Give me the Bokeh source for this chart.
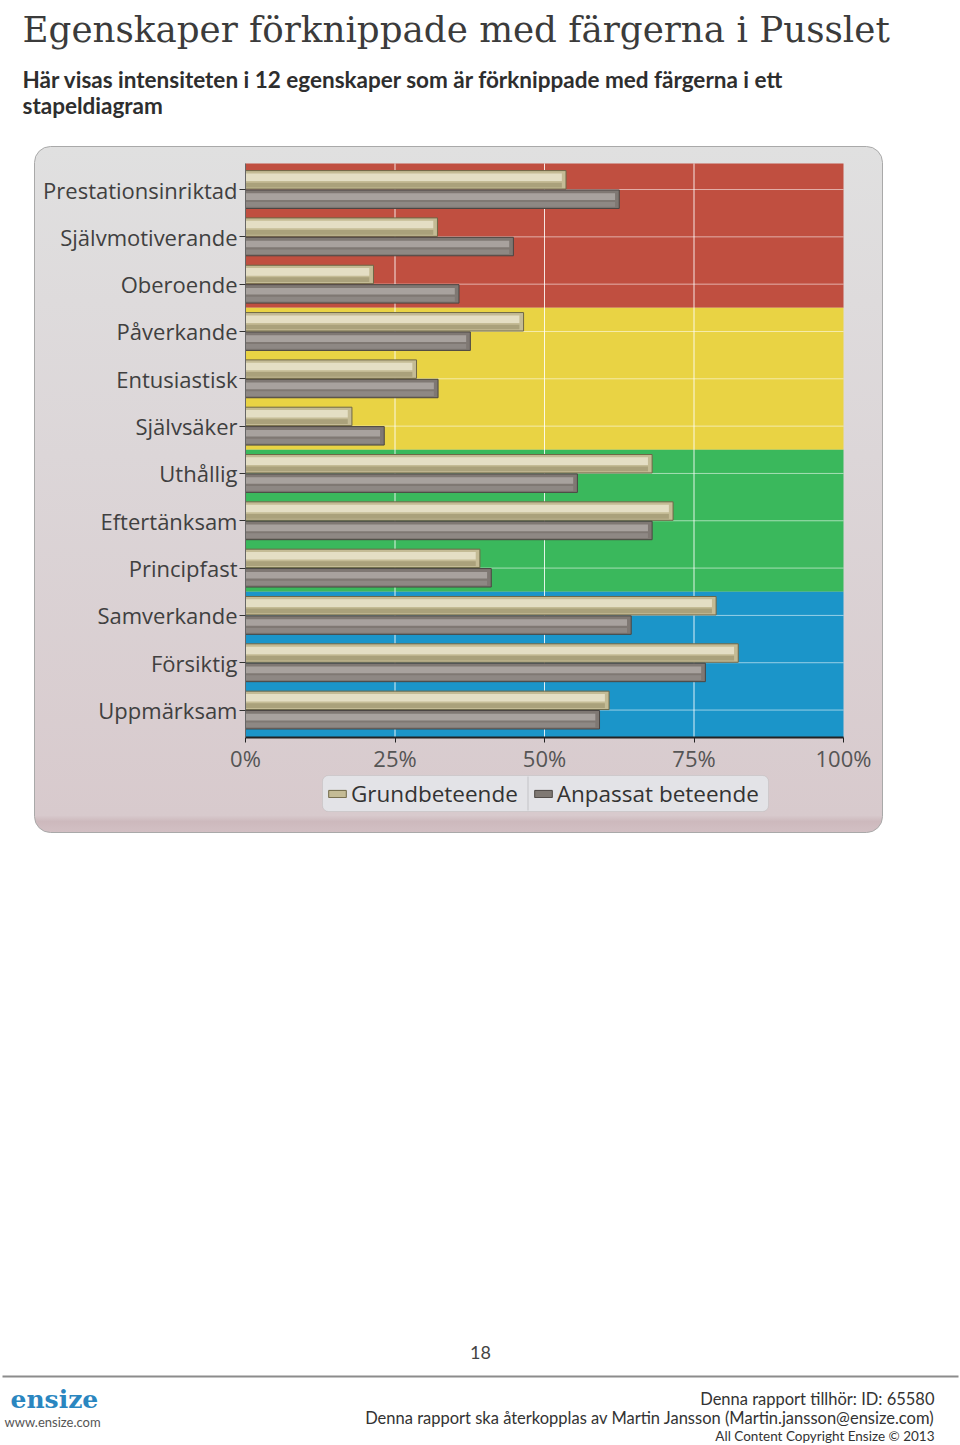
import urllib.parse
from bokeh.plotting import figure
from bokeh.models import Range1d, FixedTicker, BoxAnnotation, Label, Legend, LegendItem, ColumnDataSource
from bokeh.embed import file_html
from bokeh.resources import INLINE

# ---------------- data ----------------
categories = ["Prestationsinriktad", "Självmotiverande", "Oberoende", "Påverkande",
              "Entusiastisk", "Självsäker", "Uthållig", "Eftertänksam",
              "Principfast", "Samverkande", "Försiktig", "Uppmärksam"]
grund = [53.6, 32.1, 21.4, 46.5, 28.6, 17.8, 68.0, 71.5, 39.2, 78.7, 82.4, 60.8]
anpassat = [62.5, 44.8, 35.7, 37.6, 32.2, 23.2, 55.5, 68.0, 41.1, 64.5, 76.9, 59.2]
series_names = ["Grundbeteende", "Anpassat beteende"]
x_ticks = [0, 25, 50, 75, 100]
x_tick_labels = ["0%", "25%", "50%", "75%", "100%"]
group_sizes = [3, 3, 3, 3]          # red, yellow, green, blue colour groups
group_colors = ["#C04F40", "#E9D344", "#3AB85C", "#1B95C9"]

title_text = "Egenskaper förknippade med färgerna i Pusslet"
subtitle_lines = ["Här visas intensiteten i 12 egenskaper som är förknippade med färgerna i ett",
                  "stapeldiagram"]
page_number = "18"
logo_text = "ensize"
logo_url = "www.ensize.com"
footer_right = ["Denna rapport tillhör: ID: 65580",
                "Denna rapport ska återkopplas av Martin Jansson (Martin.jansson@ensize.com)",
                "All Content Copyright Ensize © 2013"]

# ---------------- page geometry (pixels) ----------------
W, H = 960, 1445
PL, PR, PT, PB = 245, 843, 163, 737       # plot area on the page
Y_TOP, Y_BOT = -0.55, 11.58               # category range shown in the plot area
X_MIN, X_MAX = 0, 100
kx = (PR - PL) / (X_MAX - X_MIN)
ky = (PB - PT) / (Y_BOT - Y_TOP)
x_range = Range1d(X_MIN - PL / kx, X_MAX + (W - PR) / kx)
y_range = Range1d(Y_BOT + (H - PB) / ky, Y_TOP - PT / ky)

# rounded gradient panel behind the chart (CSS background)
panel_svg = ('<svg xmlns="http://www.w3.org/2000/svg" width="849" height="687">'
             '<defs><linearGradient id="g" x1="0" y1="0" x2="0" y2="1">'
             '<stop offset="0" stop-color="#e0e0e0"/><stop offset="0.45" stop-color="#dcd6d8"/>'
             '<stop offset="0.975" stop-color="#d8cacd"/><stop offset="0.984" stop-color="#cdb9bd"/>'
             '<stop offset="1" stop-color="#d3c0c4"/></linearGradient></defs>'
             '<rect x="0.5" y="0.5" width="848" height="686" rx="16" ry="16" fill="url(#g)" '
             'stroke="#a9a9a9" stroke-width="1"/></svg>')
panel_uri = "data:image/svg+xml," + urllib.parse.quote(panel_svg)

p = figure(width=W, height=H, x_range=x_range, y_range=y_range,
           output_backend="svg", toolbar_location=None, min_border=0,
           background_fill_color=None, border_fill_color=None, outline_line_color=None)
p.styles = {"background": f'url("{panel_uri}") 34px 146px / 849px 687px no-repeat, #ffffff'}
p.grid.visible = False

# ---- coloured bands ----
band_top, band_bot, start = [], [], 0
for gi, size in enumerate(group_sizes):
    band_top.append(Y_TOP if gi == 0 else start - 0.5)
    band_bot.append(Y_BOT if gi == len(group_sizes) - 1 else start + size - 0.5)
    start += size
p.quad(left=X_MIN, right=X_MAX, top=band_top, bottom=band_bot, fill_color=group_colors,
       line_color=None, level="image")

# ---- grid lines (limited to the plot area) ----
idx = list(range(len(categories)))
p.segment(x0=x_ticks[1:-1], x1=x_ticks[1:-1], y0=Y_TOP, y1=Y_BOT,
          line_color="white", line_alpha=0.85, line_width=1, level="underlay")
p.segment(x0=X_MIN, x1=X_MAX, y0=idx, y1=idx,
          line_color="white", line_alpha=0.55, line_width=1, level="underlay")

# ---- bars ----
off, h = 0.205, 0.39
src = ColumnDataSource(dict(
    y_g=[i - off for i in idx], y_a=[i + off for i in idx],
    y_gh=[i - off - 0.055 for i in idx], y_ah=[i + off - 0.055 for i in idx],
    y_gs=[i - off + 0.11 for i in idx], y_as=[i + off + 0.11 for i in idx],
    g=grund, a=anpassat,
    gh=[v - 0.7 for v in grund], ah=[v - 0.7 for v in anpassat]))

g_base = p.hbar(y="y_g", right="g", left=0, height=h, source=src,
                fill_color="#c4bb95", line_color="#6f6746", line_width=1)
p.hbar(y="y_gs", right="gh", left=0, height=0.1, source=src, fill_color="#aaa17b", line_color=None)
p.hbar(y="y_gh", right="gh", left=0, height=0.16, source=src, fill_color="#e4dec4", line_color=None)

a_base = p.hbar(y="y_a", right="a", left=0, height=h, source=src,
                fill_color="#7f7873", line_color="#4a4542", line_width=1)
p.hbar(y="y_as", right="ah", left=0, height=0.1, source=src, fill_color="#8e8884", line_color=None)
p.hbar(y="y_ah", right="ah", left=0, height=0.14, source=src, fill_color="#a8a29e", line_color=None)

# ---- axes (drawn at the plot-area edges) ----
xa = p.xaxis[0]
xa.fixed_location = Y_BOT
xa.bounds = (X_MIN, X_MAX)
xa.ticker = FixedTicker(ticks=x_ticks)
xa.major_label_overrides = {t: l for t, l in zip(x_ticks, x_tick_labels)}
xa.axis_line_color = "#222222"
xa.axis_line_width = 2
xa.major_tick_line_color = "#222222"
xa.major_tick_out = 5
xa.major_tick_in = 0
xa.minor_tick_line_color = None
xa.major_label_text_font = "Open Sans"
xa.major_label_text_font_size = "22px"
xa.major_label_text_color = "#555555"
xa.major_label_standoff = 0

ya = p.yaxis[0]
ya.fixed_location = X_MIN
ya.bounds = (Y_TOP, Y_BOT)
ya.ticker = FixedTicker(ticks=idx)
ya.major_label_overrides = {i: c for i, c in zip(idx, categories)}
ya.axis_line_color = "#666666"
ya.major_tick_line_color = "#333333"
ya.major_tick_out = 6
ya.major_tick_in = 0
ya.minor_tick_line_color = None
ya.major_label_text_font = "Open Sans"
ya.major_label_text_font_size = "22px"
ya.major_label_text_color = "#404040"
ya.major_label_standoff = 2


def box(l, r, t, b, color, level="annotation", line=None, radius=0):
    p.add_layout(BoxAnnotation(left=l, right=r, top=H - t, bottom=H - b,
                               left_units="screen", right_units="screen",
                               top_units="screen", bottom_units="screen",
                               fill_color=color, fill_alpha=1, line_color=line, line_width=1,
                               border_radius=radius, level=level))


# ---- legend (box drawn separately) ----
box(322, 768, 775, 811, "#e3e3e7", level="guide", line="#a8a8a8", radius=6)
box(527, 528, 776, 810, "#c4c4c8", level="overlay")
legend = Legend(items=[LegendItem(label=series_names[0], renderers=[g_base]),
                       LegendItem(label=series_names[1], renderers=[a_base])],
                location=(326, H - 809), orientation="horizontal",
                background_fill_alpha=0, border_line_color=None,
                label_text_font="Open Sans", label_text_font_size="22.5px", label_text_color="#333333",
                glyph_width=22, glyph_height=9, padding=5, spacing=14, label_standoff=3, margin=0)
p.add_layout(legend)


# ---- page texts ----
def add_label(text, px, py, size, color="#333333", font="Lato", style="normal",
              align="left", baseline="middle"):
    p.add_layout(Label(x=px, y=H - py, x_units="screen", y_units="screen", text=text,
                       text_font=font, text_font_size=size, text_color=color,
                       text_font_style=style, text_align=align, text_baseline=baseline))


add_label(title_text, 22, 29, "35.7px", color="#3b3b3b", font="DejaVu Serif", baseline="alphabetic")
add_label(subtitle_lines[0], 22, 79, "22.5px", color="#2e2e2e", style="bold", baseline="alphabetic")
add_label(subtitle_lines[1], 22, 105, "22.5px", color="#2e2e2e", style="bold", baseline="alphabetic")
add_label(page_number, 480, 1352, "18px", color="#444444", align="center")
box(2, 958, 1375, 1377, "#8c8c8c")
add_label(logo_text, 10, 1399, "25px", color="#2a86c0", font="DejaVu Serif", style="bold")
add_label(logo_url, 4, 1421, "13px", color="#555555")
add_label(footer_right[0], 934, 1398, "16.5px", align="right")
add_label(footer_right[1], 934, 1417, "16.5px", align="right")
add_label(footer_right[2], 934, 1435, "13.5px", align="right")

open("out.html", "w").write(file_html(p, INLINE))
